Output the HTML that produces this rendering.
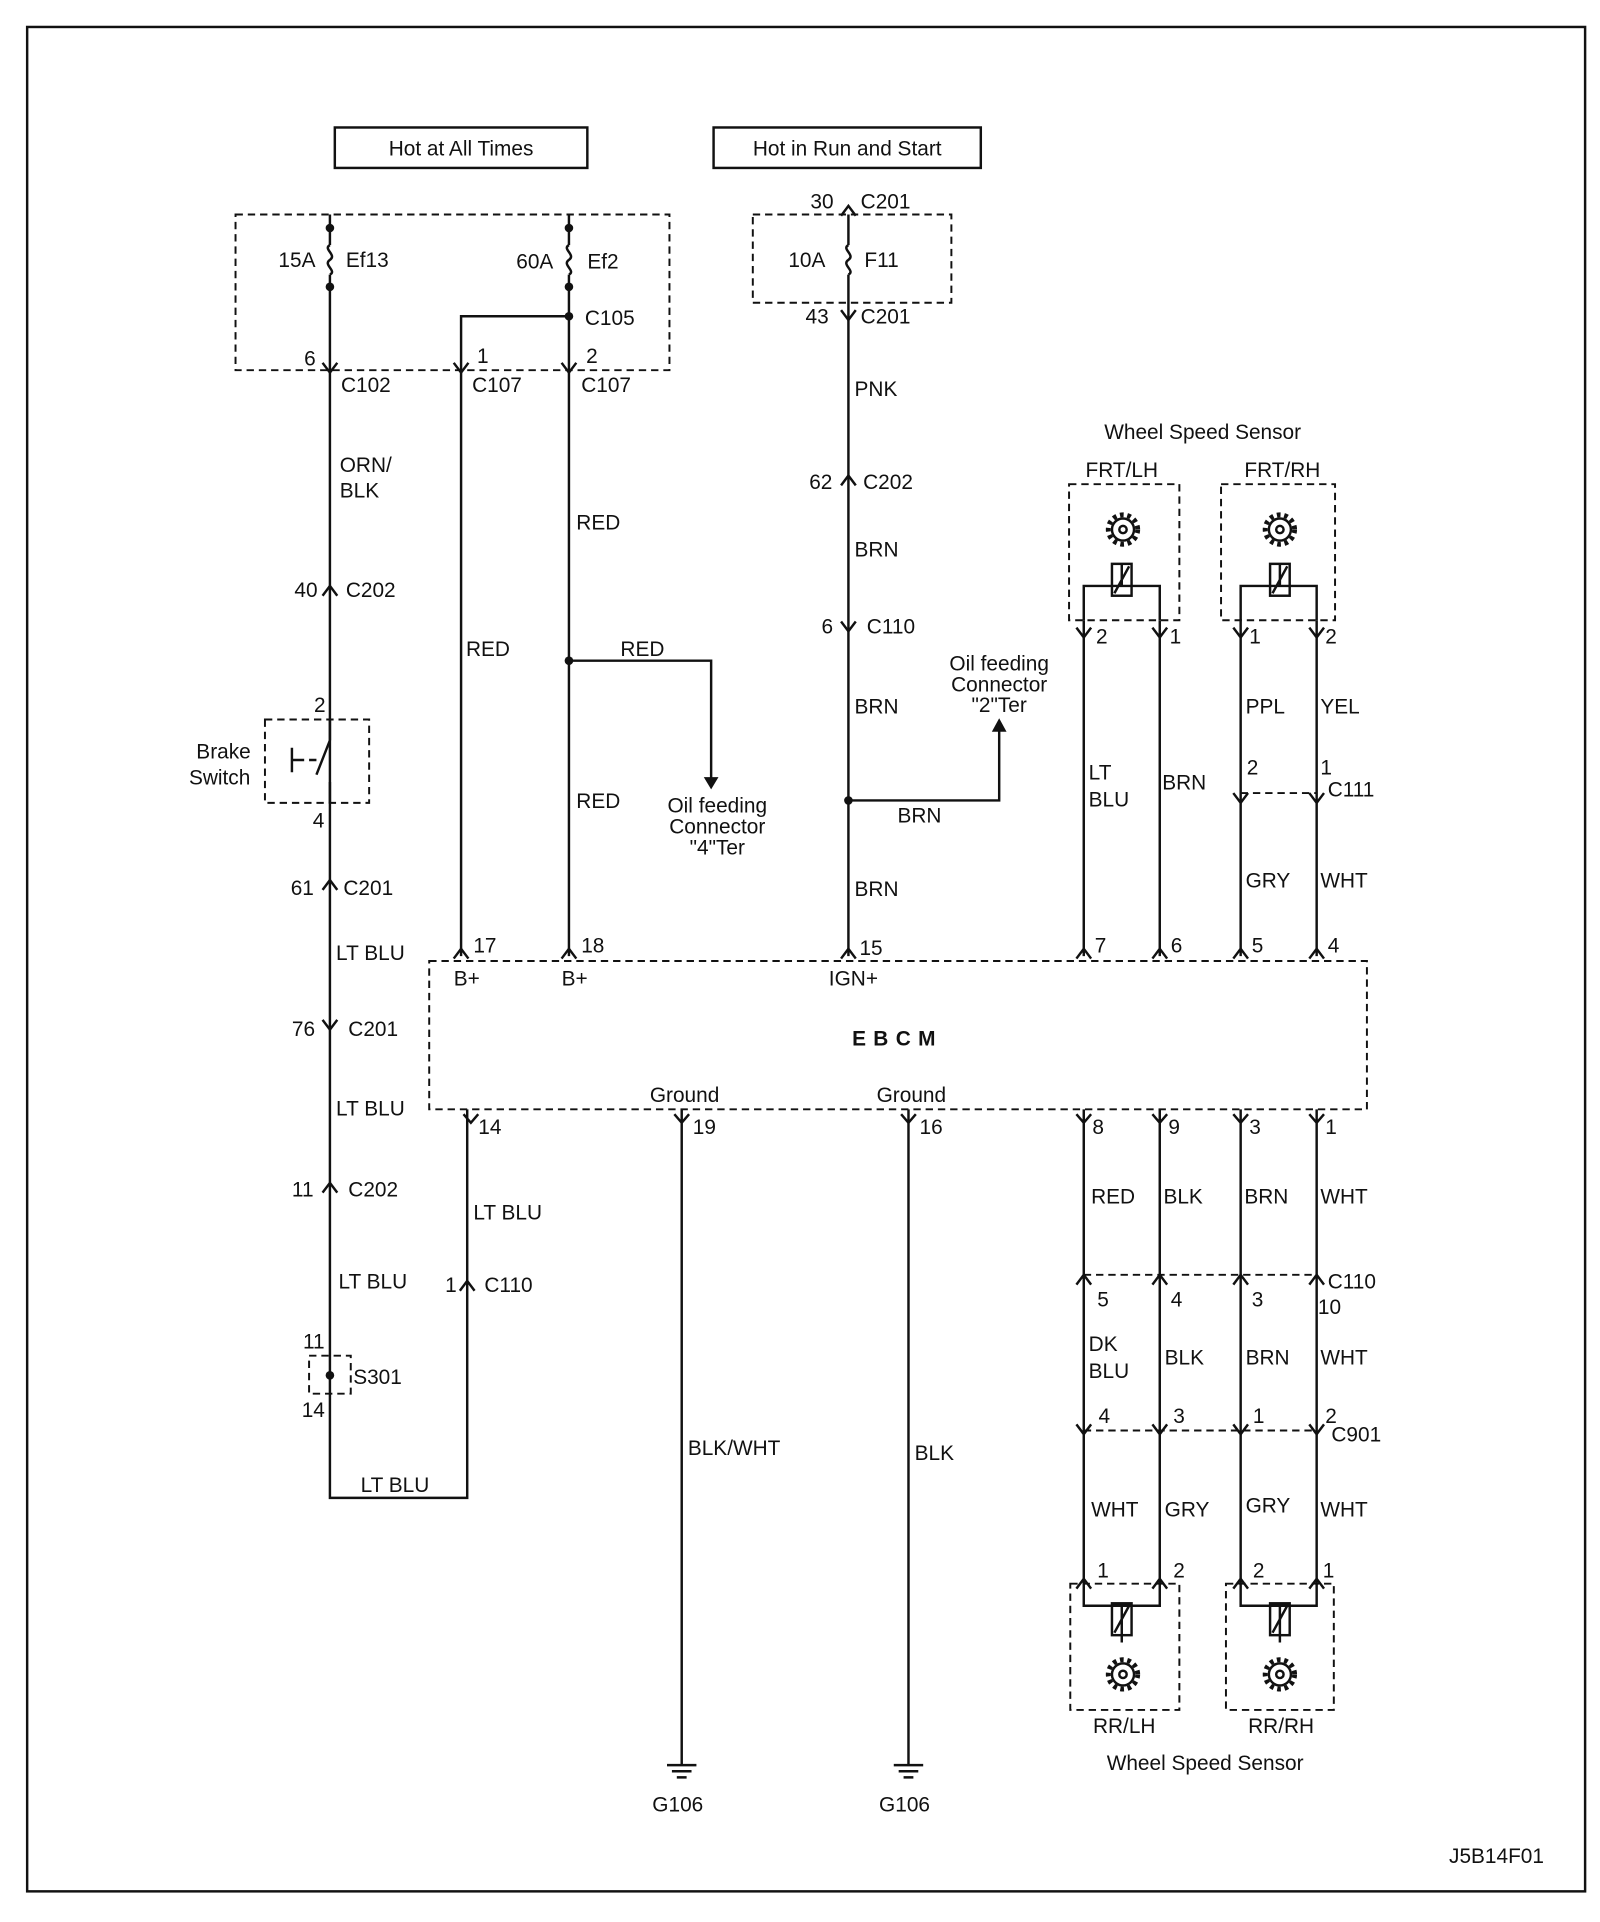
<!DOCTYPE html>
<html><head><meta charset="utf-8"><style>
html,body{margin:0;padding:0;background:#fff}
svg{display:block}
text{font-family:"Liberation Sans",Arial,sans-serif;font-size:17px;fill:#111}
</style></head><body>
<svg width="1600" height="1922" viewBox="0 0 1305 1568" xmlns="http://www.w3.org/2000/svg">
<g fill="none" stroke="#111" stroke-width="2">
<rect x="22" y="22" width="1271" height="1521"/>
<rect x="273" y="104" width="206" height="33"/>
<rect x="582" y="104" width="218" height="33"/>
</g>
<g fill="none" stroke="#111" stroke-width="1.6" stroke-dasharray="6,4">
<rect x="192" y="175" width="354" height="127"/>
<rect x="614" y="175" width="162" height="72"/>
<rect x="216" y="587" width="85" height="68"/>
<rect x="252" y="1106" width="34" height="31"/>
<rect x="350" y="784" width="765" height="121"/>
<rect x="872" y="395" width="90" height="111"/>
<rect x="996" y="395" width="93" height="111"/>
<rect x="873" y="1292" width="89" height="103"/>
<rect x="1000" y="1292" width="88" height="103"/>
<line x1="1012" y1="647" x2="1074" y2="647"/>
<line x1="884" y1="1040" x2="1074" y2="1040"/>
<line x1="884" y1="1167" x2="1074" y2="1167"/>
</g>
<g fill="none" stroke="#111" stroke-width="2">
<path d="M269 175V200M269 224V1222H381V905"/>
<path d="M464 175V200M464 224V780"/>
<path d="M464 258H376V780"/>
<path d="M692 175V200M692 224V780"/>
<path d="M464 539H580V635"/>
<path d="M692 653H815V595"/>
<path d="M556 905V1440M741 905V1440"/>
<path d="M884 506V780M946 506V780M1012 506V780M1074 506V780"/>
<path d="M884 905V1292M946 905V1292M1012 905V1292M1074 905V1292"/>
<path d="M269 200c-6 3 6 8 0 12c-6 4 6 9 0 12M464 200c-6 3 6 8 0 12c-6 4 6 9 0 12M692 200c-6 3 6 8 0 12c-6 4 6 9 0 12"/>
<path d="M269 587V604M269 638V655M238 610V630M238 620H248M252 620H258M258 632L269 604"/>
<path d="M915 460V478H884V506M915 460V478H946V506M1044 460V478H1012V506M1044 460V478H1074V506"/>
<rect x="907" y="460" width="16" height="26"/><rect x="1036" y="460" width="16" height="26"/>
<path d="M909 484L921 462M1038 484L1050 462"/>
<path d="M884 1292V1310H915V1340M946 1292V1310H915M1012 1292V1310H1044V1340M1074 1292V1310H1044"/>
<rect x="907" y="1308" width="16" height="26"/><rect x="1036" y="1308" width="16" height="26"/>
<path d="M909 1332L921 1310M1038 1332L1050 1310"/>
<circle cx="916" cy="432" r="9"/><circle cx="1044" cy="432" r="9"/>
<circle cx="916" cy="1366" r="9"/><circle cx="1044" cy="1366" r="9"/>
<circle cx="916" cy="432" r="3"/><circle cx="1044" cy="432" r="3"/>
<circle cx="916" cy="1366" r="3"/><circle cx="1044" cy="1366" r="3"/>
</g>
<g fill="none" stroke="#111" stroke-width="4" stroke-dasharray="3,3">
<circle cx="916" cy="432" r="12"/><circle cx="1044" cy="432" r="12"/>
<circle cx="916" cy="1366" r="12"/><circle cx="1044" cy="1366" r="12"/>
</g>
<g fill="#111">
<circle cx="269" cy="186" r="3.5"/><circle cx="269" cy="234" r="3.5"/>
<circle cx="464" cy="186" r="3.5"/><circle cx="464" cy="234" r="3.5"/>
<circle cx="464" cy="258" r="3.5"/><circle cx="464" cy="539" r="3.5"/>
<circle cx="692" cy="653" r="3.5"/><circle cx="269" cy="1122" r="3.5"/>
<polygon points="574,634 586,634 580,644"/>
<polygon points="809,597 821,597 815,586"/>
</g>
<g fill="none" stroke="#111" stroke-width="2">
<path d="M263 296l6 8l6-8M370 296l6 8l6-8M458 296l6 8l6-8M686 253l6 8l6-8M686 507l6 8l6-8M263 832l6 8l6-8"/>
<path d="M878 512l6 8l6-8M940 512l6 8l6-8M1006 512l6 8l6-8M1068 512l6 8l6-8"/>
<path d="M1006 647l6 8l6-8M1068 647l6 8l6-8"/>
<path d="M378 909l6 7l6-7M878 909l6 7l6-7M940 909l6 7l6-7M1006 909l6 7l6-7M1068 909l6 7l6-7M550 909l6 7l6-7M735 909l6 7l6-7"/>
<path d="M878 1162l6 8l6-8M940 1162l6 8l6-8M1006 1162l6 8l6-8M1068 1162l6 8l6-8"/>
<path d="M686 176l6-8l6 8M686 396l6-8l6 8M263 486l6-8l6 8M263 726l6-8l6 8M263 973l6-8l6 8M375 1053l6-8l6 8"/>
<path d="M370 782l6-8l6 8M458 782l6-8l6 8M686 782l6-8l6 8M878 782l6-8l6 8M940 782l6-8l6 8M1006 782l6-8l6 8M1068 782l6-8l6 8"/>
<path d="M878 1048l6-8l6 8M940 1048l6-8l6 8M1006 1048l6-8l6 8M1068 1048l6-8l6 8"/>
<path d="M878 1296l6-8l6 8M940 1296l6-8l6 8M1006 1296l6-8l6 8M1068 1296l6-8l6 8"/>
<path d="M544 1440h24M548 1445h16M552 1450h8M729 1440h24M733 1445h16M737 1450h8"/>
</g>
<g>
<text x="376" y="127" text-anchor="middle">Hot at All Times</text>
<text x="691" y="127" text-anchor="middle">Hot in Run and Start</text>
<text x="227" y="218">15A</text><text x="282" y="218">Ef13</text>
<text x="421" y="219">60A</text><text x="479" y="219">Ef2</text>
<text x="643" y="218">10A</text><text x="705" y="218">F11</text>
<text x="661" y="170">30</text><text x="702" y="170">C201</text>
<text x="657" y="264">43</text><text x="702" y="264">C201</text>
<text x="477" y="265">C105</text>
<text x="248" y="298">6</text><text x="389" y="296">1</text><text x="478" y="296">2</text>
<text x="278" y="320">C102</text><text x="385" y="320">C107</text><text x="474" y="320">C107</text>
<text x="277" y="385">ORN/</text><text x="277" y="406">BLK</text>
<text x="240" y="487">40</text><text x="282" y="487">C202</text>
<text x="256" y="581">2</text>
<text x="160" y="619">Brake</text><text x="154" y="640">Switch</text>
<text x="255" y="675">4</text>
<text x="237" y="730">61</text><text x="280" y="730">C201</text>
<text x="274" y="783">LT BLU</text>
<text x="238" y="845">76</text><text x="284" y="845">C201</text>
<text x="274" y="910">LT BLU</text>
<text x="238" y="976">11</text><text x="284" y="976">C202</text>
<text x="276" y="1051">LT BLU</text>
<text x="247" y="1100">11</text><text x="288" y="1129">S301</text><text x="246" y="1156">14</text>
<text x="294" y="1217">LT BLU</text>
<text x="380" y="535">RED</text>
<text x="470" y="432">RED</text><text x="506" y="535">RED</text><text x="470" y="659">RED</text>
<text x="585" y="663" text-anchor="middle" font-size="16">Oil feeding</text>
<text x="585" y="680" text-anchor="middle" font-size="16">Connector</text>
<text x="585" y="697" text-anchor="middle" font-size="16">"4"Ter</text>
<text x="815" y="547" text-anchor="middle" font-size="16">Oil feeding</text>
<text x="815" y="564" text-anchor="middle" font-size="16">Connector</text>
<text x="815" y="581" text-anchor="middle" font-size="16">"2"Ter</text>
<text x="697" y="323">PNK</text>
<text x="660" y="399">62</text><text x="704" y="399">C202</text>
<text x="697" y="454">BRN</text>
<text x="670" y="517">6</text><text x="707" y="517">C110</text>
<text x="697" y="582">BRN</text><text x="732" y="671">BRN</text><text x="697" y="731">BRN</text>
<text x="386" y="777">17</text><text x="474" y="777">18</text><text x="701" y="779">15</text>
<text x="370" y="804">B+</text><text x="458" y="804">B+</text><text x="676" y="804">IGN+</text>
<text x="893" y="777">7</text><text x="955" y="777">6</text><text x="1021" y="777">5</text><text x="1083" y="777">4</text>
<text x="732" y="853" text-anchor="middle" font-weight="bold" font-size="16" letter-spacing="6">EBCM</text>
<text x="530" y="899">Ground</text><text x="715" y="899">Ground</text>
<text x="390" y="925">14</text><text x="565" y="925">19</text><text x="750" y="925">16</text>
<text x="891" y="925">8</text><text x="953" y="925">9</text><text x="1019" y="925">3</text><text x="1081" y="925">1</text>
<text x="386" y="995">LT BLU</text>
<text x="363" y="1054">1</text><text x="395" y="1054">C110</text>
<text x="561" y="1187">BLK/WHT</text><text x="746" y="1191">BLK</text>
<text x="532" y="1478">G106</text><text x="717" y="1478">G106</text>
<text x="981" y="358" text-anchor="middle">Wheel Speed Sensor</text>
<text x="915" y="389" text-anchor="middle">FRT/LH</text><text x="1046" y="389" text-anchor="middle">FRT/RH</text>
<text x="894" y="525">2</text><text x="954" y="525">1</text><text x="1019" y="525">1</text><text x="1081" y="525">2</text>
<text x="1016" y="582">PPL</text><text x="1077" y="582">YEL</text>
<text x="888" y="636">LT</text><text x="888" y="658">BLU</text><text x="948" y="644">BRN</text>
<text x="1017" y="632">2</text><text x="1077" y="632">1</text><text x="1083" y="650">C111</text>
<text x="1016" y="724">GRY</text><text x="1077" y="724">WHT</text>
<text x="890" y="982">RED</text><text x="949" y="982">BLK</text><text x="1015" y="982">BRN</text><text x="1077" y="982">WHT</text>
<text x="895" y="1066">5</text><text x="955" y="1066">4</text><text x="1021" y="1066">3</text>
<text x="1083" y="1051">C110</text><text x="1075" y="1072">10</text>
<text x="888" y="1102">DK</text><text x="888" y="1124">BLU</text><text x="950" y="1113">BLK</text><text x="1016" y="1113">BRN</text><text x="1077" y="1113">WHT</text>
<text x="896" y="1161">4</text><text x="957" y="1161">3</text><text x="1022" y="1161">1</text><text x="1081" y="1161">2</text><text x="1086" y="1176">C901</text>
<text x="890" y="1237">WHT</text><text x="950" y="1237">GRY</text><text x="1016" y="1234">GRY</text><text x="1077" y="1237">WHT</text>
<text x="895" y="1287">1</text><text x="957" y="1287">2</text><text x="1022" y="1287">2</text><text x="1079" y="1287">1</text>
<text x="917" y="1414" text-anchor="middle">RR/LH</text><text x="1045" y="1414" text-anchor="middle">RR/RH</text>
<text x="983" y="1444" text-anchor="middle">Wheel Speed Sensor</text>
<text x="1182" y="1520" font-size="12">J5B14F01</text>
</g>
</svg>
</body></html>
